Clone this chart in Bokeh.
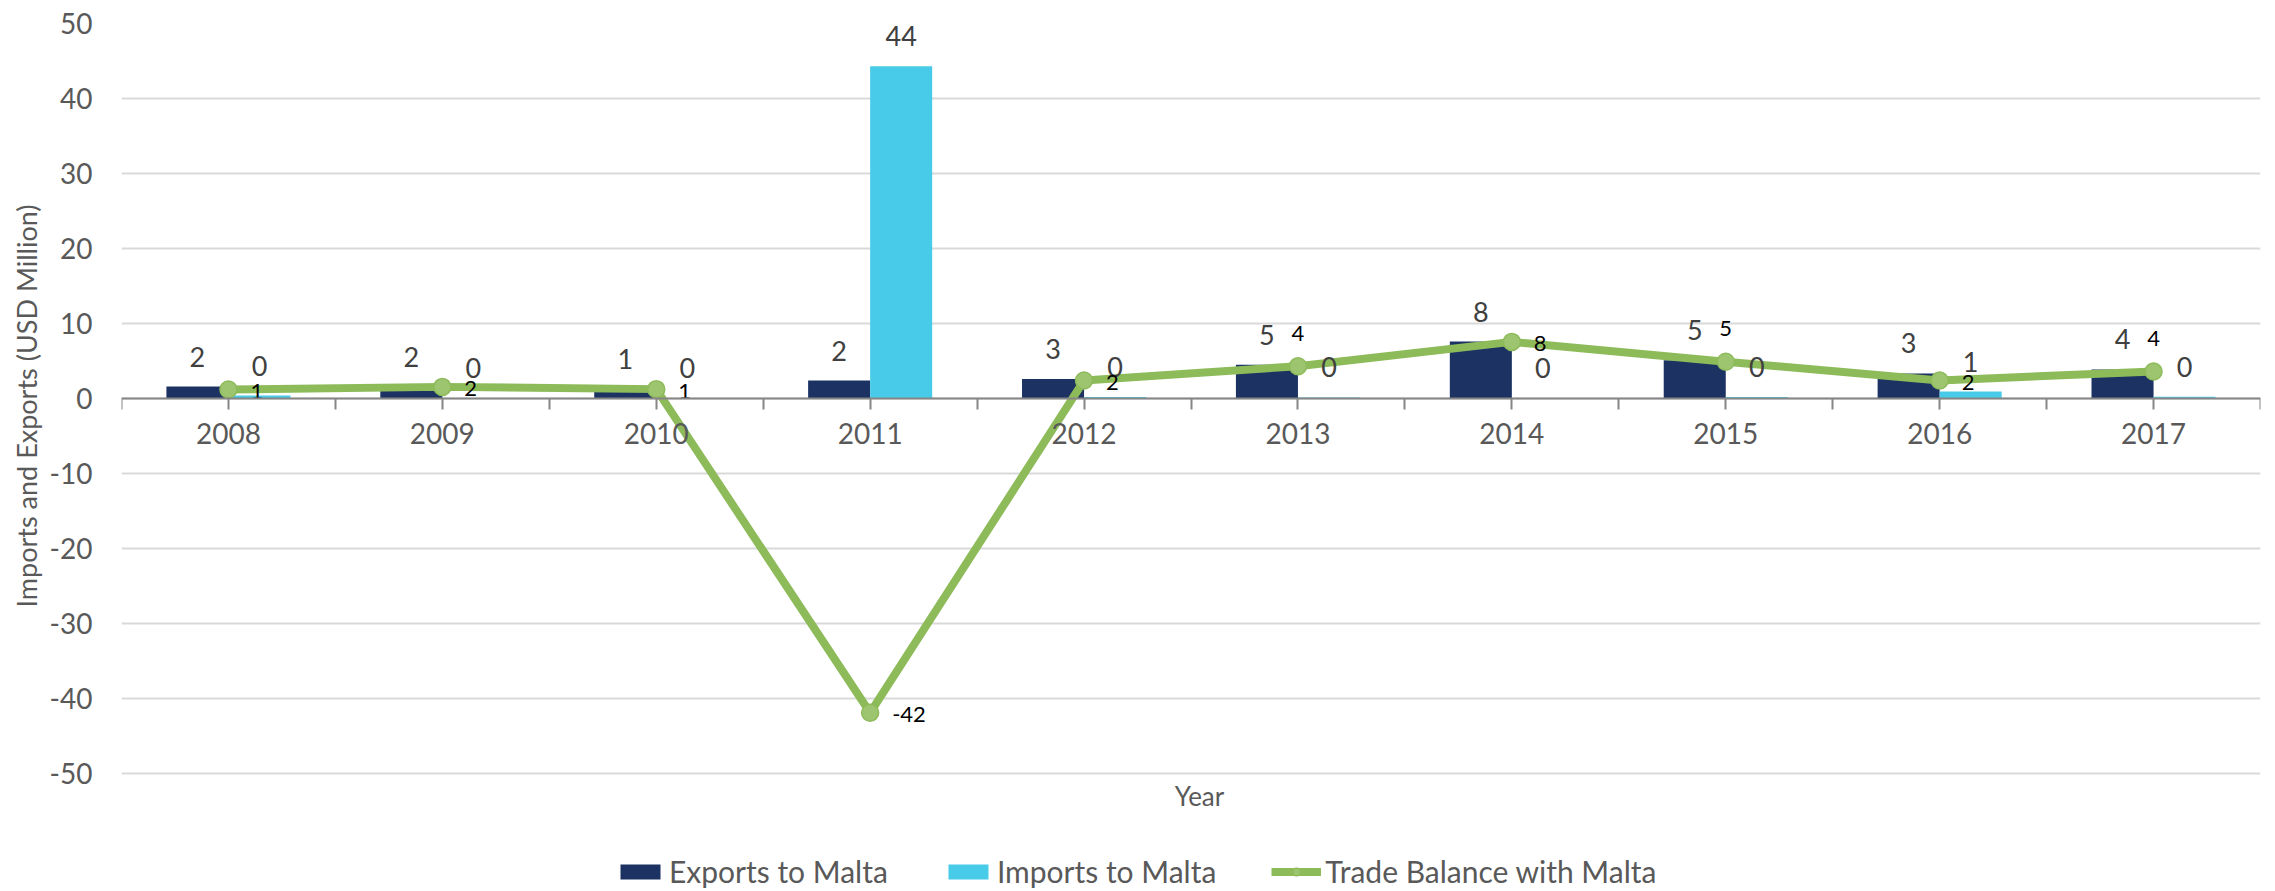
import math
from bokeh.plotting import figure
from bokeh.models import (ColumnDataSource, Range1d, LinearAxis, FixedTicker, Legend,
                          LegendItem, Label, Title, CustomJSTickFormatter)
from bokeh.transform import dodge
from bokeh.core.properties import value, field
from bokeh.embed import file_html
from bokeh.resources import INLINE

# ---- data ----
years = [2008, 2009, 2010, 2011, 2012, 2013, 2014, 2015, 2016, 2017]
year_labels = ["2008", "2009", "2010", "2011", "2012", "2013", "2014", "2015", "2016", "2017"]
exports = [1.6, 1.6, 1.3, 2.4, 2.6, 4.5, 7.6, 5.1, 3.35, 3.87]
imports = [0.4, 0.05, 0.05, 44.3, 0.2, 0.15, 0.05, 0.2, 0.93, 0.25]
balance = [1.2, 1.55, 1.25, -41.9, 2.4, 4.3, 7.55, 4.9, 2.4, 3.6]
y_ticks = [-50, -40, -30, -20, -10, 0, 10, 20, 30, 40, 50]

# ---- label placement styles (not data) ----
bal_align = ["left", "left", "left", "left", "left", "center", "left", "center", "left", "center"]
bal_dx = [22 if a == "left" else 0 for a in bal_align]
bal_dy = [2 if a == "left" else -33 for a in bal_align]


def fmt(v):
    return str(int(math.floor(v + 0.5)))


src = ColumnDataSource(dict(
    year=years, exports=exports, imports=imports, balance=balance,
    exp_text=[fmt(v) for v in exports], imp_text=[fmt(v) for v in imports],
    bal_text=[fmt(v) for v in balance],
    bal_align=bal_align, bal_dx=bal_dx, bal_dy=bal_dy,
))

FONT = "Lato"
GREY = "#595959"

# plot frame spans the canvas down to its bottom edge so that the
# legend and the "Year" title can sit inside it (7.5 px per unit)
p = figure(width=2275, height=891, output_backend="svg", toolbar_location=None, tools="",
           x_range=Range1d(2007.5, 2017.5), y_range=Range1d(50 - 868 / 7.5, 50),
           x_axis_location=None, min_border_left=121, min_border_right=15,
           min_border_top=23, min_border_bottom=0)
p.outline_line_color = None
p.background_fill_color = "white"
p.border_fill_color = "white"
p.xgrid.visible = False

# y axis
yax = p.yaxis[0]
yax.ticker = FixedTicker(ticks=y_ticks)
yax.formatter = CustomJSTickFormatter(code="return tick.toFixed(0);")
yax.axis_line_color = None
yax.major_tick_line_color = None
yax.minor_tick_line_color = None
yax.major_tick_out = 0
yax.major_tick_in = 0
yax.major_label_standoff = 29
yax.major_label_text_font = FONT
yax.major_label_text_font_size = "28px"
yax.major_label_text_color = GREY

p.add_layout(Title(text="Imports and Exports (USD Million)", align="left", offset=284,
                   standoff=8, text_font=FONT, text_font_size="27px",
                   text_font_style="normal", text_color=GREY), "left")

p.ygrid.ticker = FixedTicker(ticks=y_ticks)
p.ygrid.grid_line_color = "#D9D9D9"
p.ygrid.grid_line_width = 2

# bars
r_exp = p.vbar(x=dodge("year", -0.145), top="exports", width=0.29, source=src,
               fill_color="#1B3263", line_color=None)
r_imp = p.vbar(x=dodge("year", 0.145), top="imports", width=0.29, source=src,
               fill_color="#48CBE8", line_color=None)

# x axis at zero
x_ticks = [2007.5 + 0.5 * i for i in range(21)]
xax = LinearAxis(fixed_location=0, ticker=FixedTicker(ticks=x_ticks),
                 formatter=CustomJSTickFormatter(
                     args=dict(years=years, labels=year_labels),
                     code="const i = years.indexOf(tick); return i >= 0 ? labels[i] : '';"))
xax.axis_line_color = "#868686"
xax.axis_line_width = 2
xax.major_tick_line_color = "#868686"
xax.major_tick_line_width = 2
xax.major_tick_out = 11
xax.major_tick_in = 0
xax.minor_tick_line_color = None
xax.major_label_standoff = 13
xax.major_label_text_font = FONT
xax.major_label_text_font_size = "28px"
xax.major_label_text_color = GREY
p.add_layout(xax, "below")

# trade balance line
r_line = p.line(x="year", y="balance", source=src, line_width=8, line_color="#8EBB5A")
r_pts = p.scatter(x="year", y="balance", source=src, size=17, fill_color="#9DC56F",
                  line_color="#8EBB5A", line_width=1.5)

# value labels
p.text(x=dodge("year", -0.145), y="exports", text="exp_text", source=src, y_offset=-30,
       text_align="center", text_baseline="middle", text_font=value(FONT),
       text_font_size="27px", text_color="#404040")
p.text(x=dodge("year", 0.145), y="imports", text="imp_text", source=src, y_offset=-30,
       text_align="center", text_baseline="middle", text_font=value(FONT),
       text_font_size="27px", text_color="#404040")
p.text(x="year", y="balance", text="bal_text", source=src, x_offset="bal_dx", y_offset="bal_dy",
       text_align=field("bal_align"), text_baseline="middle", text_font=value(FONT),
       text_font_size="22px", text_color="black")

# x axis title (screen units inside the frame, from its bottom-left)
p.add_layout(Label(x=1078, y=96, x_units="screen", y_units="screen", text="Year",
                   text_align="center", text_baseline="middle", text_font=FONT,
                   text_font_size="26px", text_color=GREY))

# legend
legend = Legend(items=[LegendItem(label="Exports to Malta", renderers=[r_exp]),
                       LegendItem(label="Imports to Malta", renderers=[r_imp]),
                       LegendItem(label="Trade Balance with Malta", renderers=[r_line, r_pts])],
                orientation="horizontal", location=(494, 2),
                glyph_width=50, glyph_height=19, label_standoff=4, spacing=55,
                padding=0, margin=0, border_line_color=None, background_fill_alpha=0,
                label_text_font=FONT, label_text_font_size="30px", label_text_color=GREY)
p.add_layout(legend, "center")

open("out.html", "w").write(file_html(p, INLINE))
